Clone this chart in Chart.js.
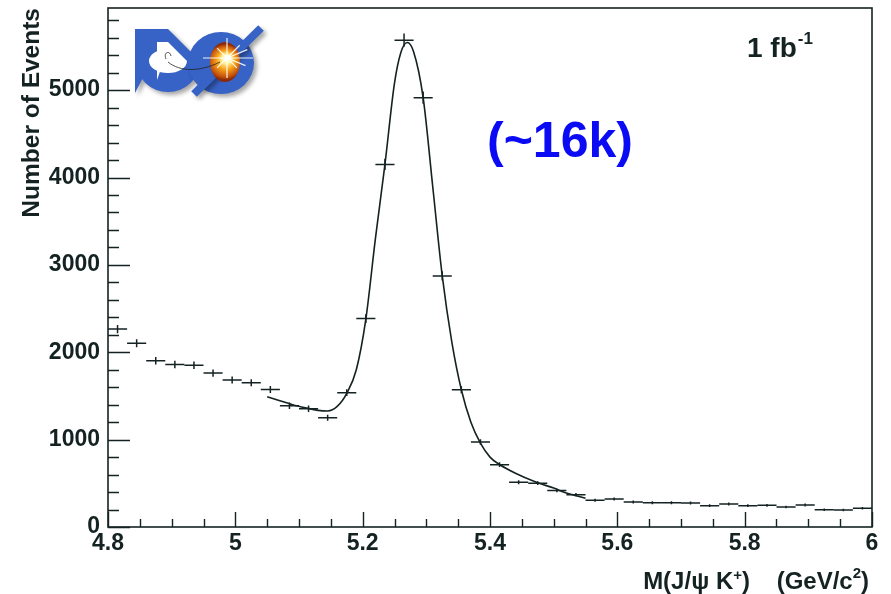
<!DOCTYPE html>
<html>
<head>
<meta charset="utf-8">
<script src="https://cdn.jsdelivr.net/npm/chart.js@4.4.0/dist/chart.umd.min.js"></script>
<style>
  html, body { margin: 0; padding: 0; background: #ffffff; }
  #wrap { width: 891px; height: 594px; position: relative; }
</style>
</head>
<body>
<div id="wrap"><canvas id="c" width="891" height="594"></canvas></div>
<script>
// B+ -> J/psi K+ invariant mass spectrum, 40 bins of 30 MeV between 4.8 and 6.0 GeV/c^2
const BIN_WIDTH = 0.03;
const binCenter = [
  4.815, 4.845, 4.875, 4.905, 4.935, 4.965, 4.995, 5.025, 5.055, 5.085,
  5.115, 5.145, 5.175, 5.205, 5.235, 5.265, 5.295, 5.325, 5.355, 5.385,
  5.415, 5.445, 5.475, 5.505, 5.535, 5.565, 5.595, 5.625, 5.655, 5.685,
  5.715, 5.745, 5.775, 5.805, 5.835, 5.865, 5.895, 5.925, 5.955, 5.985
];
const counts = [
  2265, 2102, 1903, 1861, 1850, 1762, 1682, 1651, 1575, 1388,
  1354, 1251, 1537, 2385, 4150, 5572, 4914, 2874, 1571, 973,
  713, 511, 502, 419, 370, 305, 320, 286, 278, 278,
  275, 244, 263, 244, 248, 229, 252, 198, 194, 214
];
const countErr = [
  48, 46, 44, 43, 43, 42, 41, 41, 40, 37,
  37, 35, 39, 49, 64, 75, 70, 54, 40, 31,
  27, 23, 22, 20, 19, 17, 18, 17, 17, 17,
  17, 16, 16, 16, 16, 15, 16, 14, 14, 15
];

// fitted signal + background curve over the fit range
const fitMass = [
  5.05, 5.07, 5.09, 5.11, 5.13, 5.145, 5.16, 5.175, 5.19, 5.205,
  5.22, 5.235, 5.25, 5.26, 5.27, 5.28, 5.295, 5.31, 5.325, 5.34,
  5.355, 5.37, 5.385, 5.40, 5.415, 5.44, 5.47, 5.50, 5.52, 5.55
];
const fitCount = [
  1490, 1445, 1400, 1365, 1335, 1328, 1380, 1530, 1800, 2380,
  3300, 4150, 5080, 5430, 5545, 5440, 4914, 3900, 2874, 2120,
  1571, 1200, 960, 800, 715, 615, 520, 445, 390, 330
];

// axis ticks
const xTickValues = [4.8, 5.0, 5.2, 5.4, 5.6, 5.8, 6.0];
const xTickLabels = ['4.8', '5', '5.2', '5.4', '5.6', '5.8', '6'];
const yTickValues = [0, 1000, 2000, 3000, 4000, 5000];
const yTickLabels = ['0', '1000', '2000', '3000', '4000', '5000'];

const INK = '#142222';
const FONT = "'Liberation Sans', Arial, Helvetica, sans-serif";

// ROOT-style frame, inward tick marks, error crosses, annotations and logo
const histDecor = {
  id: 'histDecor',
  afterDatasetsDraw(chart) {
    const ctx = chart.ctx;
    const xs = chart.scales.x, ys = chart.scales.y;

    // data points: bin-width horizontal bar + vertical error bar
    ctx.save();
    ctx.strokeStyle = INK;
    ctx.lineWidth = 1.5;
    binCenter.forEach((m, i) => {
      const x0 = xs.getPixelForValue(m - BIN_WIDTH / 2);
      const x1 = xs.getPixelForValue(m + BIN_WIDTH / 2);
      const xc = xs.getPixelForValue(m);
      const y = ys.getPixelForValue(counts[i]);
      const yl = ys.getPixelForValue(counts[i] - countErr[i]);
      const yh = ys.getPixelForValue(counts[i] + countErr[i]);
      ctx.beginPath();
      ctx.moveTo(x0, y); ctx.lineTo(x1, y);
      ctx.moveTo(xc, yl); ctx.lineTo(xc, yh);
      ctx.stroke();
    });
    ctx.restore();
  },
  afterDraw(chart) {
    const ctx = chart.ctx;
    const xs = chart.scales.x, ys = chart.scales.y;
    const a = chart.chartArea;

    ctx.save();
    ctx.strokeStyle = INK;
    ctx.lineWidth = 1.6;
    ctx.strokeRect(a.left, a.top, a.right - a.left, a.bottom - a.top);

    // x ticks: major every 0.2, minor every 0.05
    ctx.lineWidth = 1.4;
    ctx.beginPath();
    for (let k = 0; k <= 24; k++) {
      const v = 4.8 + k * 0.05;
      const px = Math.round(xs.getPixelForValue(v)) + 0.5;
      const len = (k % 4 === 0) ? 15 : 8;
      ctx.moveTo(px, a.bottom);
      ctx.lineTo(px, a.bottom - len);
    }
    // y ticks: major every 1000, minor every 200
    for (let k = 0; k <= 29; k++) {
      const v = k * 200;
      if (v > ys.max) break;
      const py = Math.round(ys.getPixelForValue(v)) + 0.5;
      const len = (k % 5 === 0) ? 22 : 11;
      ctx.moveTo(a.left, py);
      ctx.lineTo(a.left + len, py);
    }
    ctx.stroke();

    // x axis title with superscripts
    ctx.fillStyle = INK;
    ctx.textBaseline = 'alphabetic';
    const base = 589;
    const big = 'bold 24px ' + FONT;
    const small = 'bold 15px ' + FONT;
    const parts = [
      ['M(J/\u03C8 K', big, 0],
      ['+', small, -9],
      [')', big, 0],
      ['    (GeV/c', big, 0],
      ['2', small, -11],
      [')', big, 0]
    ];
    let total = 0;
    parts.forEach(p => { ctx.font = p[1]; total += ctx.measureText(p[0]).width; });
    let x = 869 - total;
    parts.forEach(p => {
      ctx.font = p[1];
      ctx.fillText(p[0], x, base + p[2]);
      x += ctx.measureText(p[0]).width;
    });

    // integrated luminosity
    ctx.font = 'bold 28px ' + FONT;
    ctx.fillText('1 fb', 747, 57);
    const w1 = ctx.measureText('1 fb').width;
    ctx.font = 'bold 17px ' + FONT;
    ctx.fillText('-1', 747 + w1 + 1, 44);

    // signal yield
    ctx.fillStyle = '#0a0af5';
    ctx.font = 'bold 50px ' + FONT;
    ctx.fillText('(~16k)', 487, 157);
    ctx.restore();

    drawLogo(ctx);
  }
};

function drawLogo(ctx) {
  const blue = '#3762c6';
  ctx.save();
  ctx.shadowColor = 'rgba(0,0,0,0.35)';
  ctx.shadowOffsetX = 3;
  ctx.shadowOffsetY = 3;
  ctx.shadowBlur = 4;
  ctx.fillStyle = blue;

  // D
  ctx.beginPath();
  ctx.moveTo(135, 29);
  ctx.lineTo(168, 29);
  ctx.ellipse(168, 61, 31, 32, -Math.PI / 2, Math.PI / 2, false);
  ctx.lineTo(135, 93);
  ctx.closePath();
  ctx.fill();

  // slashed O
  ctx.beginPath();
  ctx.ellipse(221, 63, 33, 31, 0, 0, Math.PI * 2);
  ctx.fill();
  ctx.strokeStyle = blue;
  ctx.lineWidth = 8;
  ctx.lineCap = 'butt';
  ctx.beginPath();
  ctx.moveTo(194, 94);
  ctx.lineTo(261, 28);
  ctx.stroke();
  ctx.restore();

  ctx.save();
  // D counter
  ctx.fillStyle = '#ffffff';
  ctx.beginPath();
  ctx.moveTo(157, 42);
  ctx.lineTo(168, 42);
  ctx.ellipse(168, 61, 12, 19, -Math.PI / 2, Math.PI / 2, false);
  ctx.lineTo(157, 80);
  ctx.closePath();
  ctx.fill();

  // glowing core inside the O
  const g = ctx.createRadialGradient(227, 58, 1, 225, 62, 18);
  g.addColorStop(0, '#ffffff');
  g.addColorStop(0.2, '#fff6a0');
  g.addColorStop(0.5, '#f7a21a');
  g.addColorStop(0.85, '#c4520c');
  g.addColorStop(1, '#8a2a08');
  ctx.fillStyle = g;
  ctx.beginPath();
  ctx.ellipse(225, 62, 15, 20, 0, 0, Math.PI * 2);
  ctx.fill();

  // star burst
  ctx.strokeStyle = 'rgba(255,255,255,0.9)';
  ctx.lineWidth = 1.2;
  ctx.beginPath();
  const rays = [[0, 26], [Math.PI / 2, 20], [Math.PI, 24], [-Math.PI / 2, 20],
                [Math.PI / 4, 14], [3 * Math.PI / 4, 14], [-Math.PI / 4, 18], [-3 * Math.PI / 4, 14],
                [Math.PI / 8, 20], [-Math.PI / 8, 22]];
  rays.forEach(r => {
    ctx.moveTo(227, 58);
    ctx.lineTo(227 + Math.cos(r[0]) * r[1], 58 + Math.sin(r[0]) * r[1]);
  });
  ctx.stroke();

  // thin track from the D to the core
  ctx.strokeStyle = '#222222';
  ctx.lineWidth = 0.8;
  ctx.beginPath();
  ctx.moveTo(166, 59);
  ctx.bezierCurveTo(163, 52, 170, 50, 171, 56);
  ctx.moveTo(168, 62);
  ctx.bezierCurveTo(180, 72, 200, 72, 220, 62);
  ctx.stroke();
  ctx.restore();
}

const ctx = document.getElementById('c').getContext('2d');
new Chart(ctx, {
  type: 'scatter',
  data: {
    datasets: [
      {
        type: 'line',
        label: 'fit',
        data: fitMass.map((m, i) => ({ x: m, y: fitCount[i] })),
        borderColor: INK,
        borderWidth: 1.6,
        pointRadius: 0,
        fill: false,
        cubicInterpolationMode: 'monotone'
      },
      {
        label: 'data',
        data: binCenter.map((m, i) => ({ x: m, y: counts[i] })),
        pointRadius: 0,
        showLine: false
      }
    ]
  },
  options: {
    responsive: false,
    animation: false,
    devicePixelRatio: 1,
    layout: { padding: { left: 0, right: 19, top: 8, bottom: 0 } },
    plugins: { legend: { display: false }, tooltip: { enabled: false } },
    scales: {
      x: {
        type: 'linear',
        min: 4.8,
        max: 6.0,
        grid: { display: false, drawTicks: false },
        border: { display: false },
        afterBuildTicks: s => { s.ticks = xTickValues.map(v => ({ value: v })); },
        afterFit: s => { s.height = 67; s.paddingLeft = 0; s.paddingRight = 0; },
        ticks: {
          autoSkip: false,
          maxRotation: 0,
          padding: 3,
          color: INK,
          font: { family: FONT, size: 23, weight: 'bold' },
          callback: (v, i) => xTickLabels[i]
        }
      },
      y: {
        type: 'linear',
        min: 0,
        max: 5940,
        grid: { display: false, drawTicks: false },
        border: { display: false },
        afterBuildTicks: s => { s.ticks = yTickValues.map(v => ({ value: v })); },
        afterFit: s => { s.width = 108; s.paddingTop = 0; s.paddingBottom = 0; },
        ticks: {
          autoSkip: false,
          padding: 8,
          color: INK,
          font: { family: FONT, size: 23, weight: 'bold' },
          callback: (v, i) => yTickLabels[i]
        },
        title: {
          display: true,
          text: 'Number of Events',
          align: 'end',
          color: INK,
          font: { family: FONT, size: 24.5, weight: 'bold' },
          padding: { top: 18, bottom: 0 }
        }
      }
    }
  },
  plugins: [histDecor]
});
</script>
</body>
</html>
